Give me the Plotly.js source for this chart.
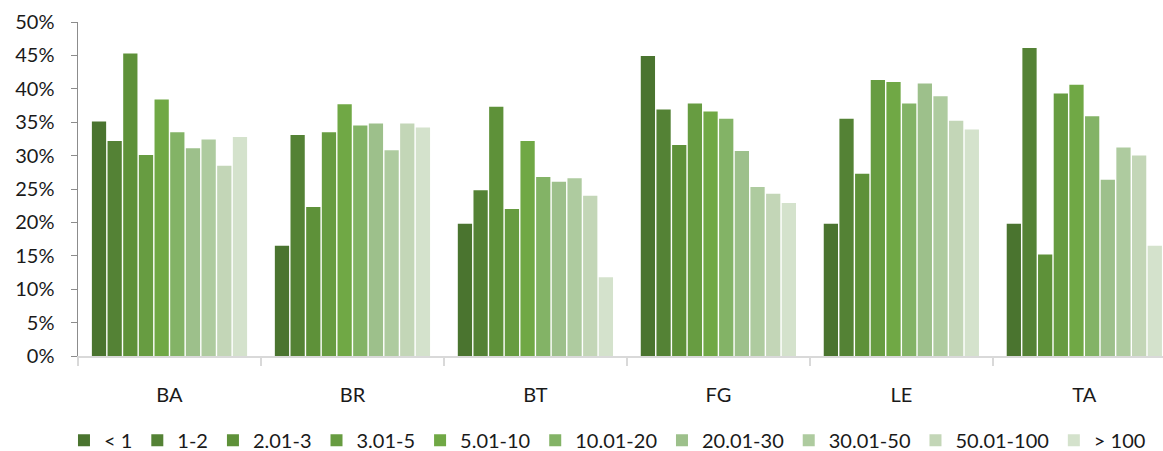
<!DOCTYPE html>
<html>
<head>
<meta charset="utf-8">
<script src="https://cdn.plot.ly/plotly-3.0.1.min.js"></script>
<style>html,body{margin:0;padding:0;background:#fff;}#chart{width:1163px;height:451px;}</style>
</head>
<body>
<div id="chart"></div>
<script>
const categories = ["BA", "BR", "BT", "FG", "LE", "TA"];
const seriesNames = ["< 1", "1-2", "2.01-3", "3.01-5", "5.01-10", "10.01-20", "20.01-30", "30.01-50", "50.01-100", "> 100"];
const s_lt1     = [0.351, 0.165, 0.198, 0.449, 0.198, 0.198];
const s_1_2     = [0.322, 0.331, 0.248, 0.369, 0.355, 0.461];
const s_2_3     = [0.453, 0.223, 0.373, 0.316, 0.273, 0.152];
const s_3_5     = [0.301, 0.335, 0.220, 0.378, 0.413, 0.393];
const s_5_10    = [0.384, 0.377, 0.322, 0.366, 0.410, 0.406];
const s_10_20   = [0.335, 0.345, 0.268, 0.355, 0.378, 0.359];
const s_20_30   = [0.311, 0.348, 0.261, 0.307, 0.408, 0.264];
const s_30_50   = [0.324, 0.308, 0.266, 0.253, 0.389, 0.312];
const s_50_100  = [0.285, 0.348, 0.240, 0.243, 0.352, 0.300];
const s_gt100   = [0.328, 0.342, 0.118, 0.229, 0.339, 0.165];
const seriesValues = [s_lt1, s_1_2, s_2_3, s_3_5, s_5_10, s_10_20, s_20_30, s_30_50, s_50_100, s_gt100];
const colors = ["#4A742F", "#548235", "#5E9139", "#679C41", "#70A845", "#83B366", "#9DC08B", "#AECB9F", "#C3D6B7", "#D4E2CC"];

const traces = seriesNames.map((name, i) => ({
  type: "bar",
  name: name,
  x: categories,
  y: seriesValues[i],
  marker: {color: colors[i], line: {width: 0}},
  hoverinfo: "x+y+name"
}));

const font = {family: "Lato, 'Open Sans', sans-serif", size: 20, color: "#1a1a1a"};

const layout = {
  width: 1163,
  height: 451,
  margin: {l: 78, r: 0, t: 22, b: 0, autoexpand: false},
  paper_bgcolor: "#fff",
  plot_bgcolor: "#fff",
  font: font,
  barmode: "group",
  bargap: 0.144,
  bargroupgap: 0.09,
  showlegend: true,
  legend: {
    orientation: "h",
    x: 0.488, xanchor: "center",
    y: 0.025, yanchor: "middle",
    font: {family: font.family, size: 20, color: "#1a1a1a"},
    itemwidth: 30,
    tracegroupgap: 0
  },
  xaxis: {
    type: "category",
    range: [-0.5, 5.43],
    showline: true,
    linecolor: "#D9D9D9",
    linewidth: 2,
    ticks: "outside",
    tickson: "boundaries",
    ticklen: 8,
    tickcolor: "#D9D9D9",
    tickwidth: 1.5,
    showgrid: false,
    zeroline: false,
    tickfont: font,
    ticklabelstandoff: 20
  },
  yaxis: {
    domain: [0.2214, 1],
    range: [0, 0.5],
    dtick: 0.05,
    tick0: 0,
    tickformat: ".0%",
    showline: true,
    linecolor: "#8C8C8C",
    linewidth: 1.5,
    ticks: "outside",
    ticklen: 6,
    tickcolor: "#8C8C8C",
    showgrid: false,
    zeroline: false,
    tickfont: font,
    ticklabelstandoff: 12
  }
};

Plotly.newPlot("chart", traces, layout, {displayModeBar: false, staticPlot: true});
</script>
</body>
</html>
